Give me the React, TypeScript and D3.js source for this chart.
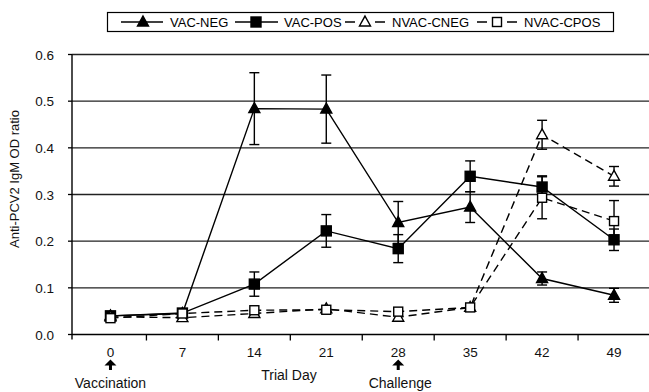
import * as d3 from "d3";

const days = ["0", "7", "14", "21", "28", "35", "42", "49"];
const yTicks = [0, 0.1, 0.2, 0.3, 0.4, 0.5, 0.6];

const vacNeg = [0.04, 0.045, 0.484, 0.483, 0.24, 0.273, 0.12, 0.084];
const vacNegErr = [0.003, 0.004, 0.077, 0.073, 0.045, 0.033, 0.014, 0.015];
const vacPos = [0.04, 0.046, 0.108, 0.222, 0.184, 0.339, 0.316, 0.203];
const vacPosErr = [0.003, 0.004, 0.026, 0.035, 0.03, 0.033, 0.024, 0.023];
const nvacCneg = [0.038, 0.036, 0.045, 0.055, 0.037, 0.058, 0.428, 0.339];
const nvacCnegErr = [0.003, 0.003, 0.004, 0.005, 0.004, 0.005, 0.031, 0.021];
const nvacCpos = [0.035, 0.045, 0.052, 0.053, 0.049, 0.058, 0.293, 0.243];
const nvacCposErr = [0.003, 0.003, 0.004, 0.004, 0.004, 0.004, 0.045, 0.044];

const series = [
  { name: "VAC-NEG", values: vacNeg, err: vacNegErr, shape: "tri", filled: true, dashed: false },
  { name: "VAC-POS", values: vacPos, err: vacPosErr, shape: "sq", filled: true, dashed: false },
  { name: "NVAC-CNEG", values: nvacCneg, err: nvacCnegErr, shape: "tri", filled: false, dashed: true },
  { name: "NVAC-CPOS", values: nvacCpos, err: nvacCposErr, shape: "sq", filled: false, dashed: true },
];

const font = "'Liberation Sans', Arial, Helvetica, sans-serif";

const Marker = ({ x, y, shape, filled }: { x: number; y: number; shape: string; filled: boolean }) => {
  const fill = filled ? "#000" : "#fff";
  if (shape === "tri") {
    const s = 11;
    const h = s * 0.9;
    return (
      <path
        d={`M${x},${y - h * 0.6}L${x + s / 2},${y + h * 0.4}L${x - s / 2},${y + h * 0.4}Z`}
        fill={fill}
        stroke="#000"
        strokeWidth={1.4}
      />
    );
  }
  const s = filled ? 10 : 9;
  return <rect x={x - s / 2} y={y - s / 2} width={s} height={s} fill={fill} stroke="#000" strokeWidth={1.4} />;
};

export default function App() {
  const width = 649;
  const height = 392;
  const axisX = 72;
  const x = d3.scaleBand<string>().domain(days).range([74.5, 650]);
  const y = d3.scaleLinear().domain([0, 0.6]).range([334.5, 54.5]);
  const cx = (d: string) => (x(d) ?? 0) + x.bandwidth() / 2;

  const line = d3
    .line<number>()
    .x((_, i) => cx(days[i]))
    .y(v => y(v));

  const legendItems = [
    { lx0: 121, lx1: 163, mx: 143, tx: 170 },
    { lx0: 235, lx1: 278, mx: 256, tx: 284 },
    { lx0: 345, lx1: 388, mx: 365, tx: 392 },
    { lx0: 477, lx1: 520, mx: 497, tx: 524 },
  ];

  const arrow = (ax: number) =>
    `M${ax},359.5L${ax + 6},365.5L${ax + 1.5},365.5L${ax + 1.5},370L${ax - 1.5},370L${ax - 1.5},365.5L${ax - 6},365.5Z`;

  return (
    <svg
      width={width}
      height={height}
      style={{ position: "absolute", left: 0, top: 0, background: "#fff" }}
      fontFamily={font}
    >
      <rect width={width} height={height} fill="#fff" />
      {/* legend */}
      <rect x={107.5} y={12.5} width={506} height={19} fill="#fff" stroke="#000" strokeWidth={1.2} />
      {series.map((s, i) => {
        const it = legendItems[i];
        return (
          <g key={s.name}>
            <line
              x1={it.lx0}
              x2={it.lx1}
              y1={22}
              y2={22}
              stroke="#000"
              strokeWidth={1.5}
              strokeDasharray={s.dashed ? "10,20" : undefined}
            />
            <Marker x={it.mx} y={22} shape={s.shape} filled={s.filled} />
            <text x={it.tx} y={26.5} fontSize={13}>
              {s.name}
            </text>
          </g>
        );
      })}

      {/* gridlines */}
      {yTicks.map(t => (
        <g key={t}>
          {t > 0 && <line x1={axisX} x2={649} y1={y(t)} y2={y(t)} stroke="#222" strokeWidth={1.3} />}
          <line x1={axisX - 4} x2={axisX} y1={y(t)} y2={y(t)} stroke="#000" strokeWidth={1.3} />
          <text x={54} y={y(t) + 5} fontSize={13.5} textAnchor="end" fill="#111">
            {t.toFixed(1)}
          </text>
        </g>
      ))}
      {/* axes */}
      <line x1={axisX} x2={axisX} y1={y(0.6)} y2={y(0) + 5} stroke="#000" strokeWidth={1.4} />
      <line x1={axisX} x2={649} y1={y(0)} y2={y(0)} stroke="#000" strokeWidth={1.4} />
      {days.slice(1).map(d => (
        <line key={d} x1={x(d)} x2={x(d)} y1={y(0)} y2={y(0) + 6} stroke="#000" strokeWidth={1.3} />
      ))}
      {days.map(d => (
        <text key={d} x={cx(d)} y={357} fontSize={13.5} textAnchor="middle" fill="#111">
          {d}
        </text>
      ))}

      {/* arrows and annotations */}
      <path d={arrow(cx("0"))} fill="#000" />
      <path d={arrow(cx("28"))} fill="#000" />
      <text x={cx("0")} y={388} fontSize={14} textAnchor="middle" fill="#111">
        Vaccination
      </text>
      <text x={cx("28") + 2} y={388} fontSize={14} textAnchor="middle" fill="#111">
        Challenge
      </text>
      <text x={289} y={380} fontSize={14} textAnchor="middle" fill="#111">
        Trial Day
      </text>
      <text transform={`translate(19,179) rotate(-90)`} fontSize={13} textAnchor="middle" fill="#111">
        Anti-PCV2 IgM OD ratio
      </text>

      {/* series lines */}
      {series.map(s => (
        <path
          key={s.name}
          d={line(s.values) ?? ""}
          fill="none"
          stroke="#000"
          strokeWidth={1.4}
          strokeDasharray={s.dashed ? "8,5" : undefined}
        />
      ))}
      {/* error bars */}
      {series.map(s =>
        s.values.map((v, i) => {
          const px = cx(days[i]);
          const e = s.err[i];
          if (e < 0.01) return null;
          return (
            <g key={s.name + i} stroke="#000" strokeWidth={1.4}>
              <line x1={px} x2={px} y1={y(v + e)} y2={y(v - e)} />
              <line x1={px - 5} x2={px + 5} y1={y(v + e)} y2={y(v + e)} />
              <line x1={px - 5} x2={px + 5} y1={y(v - e)} y2={y(v - e)} />
            </g>
          );
        })
      )}
      {/* markers */}
      {series.map(s =>
        s.values.map((v, i) => (
          <Marker key={s.name + "m" + i} x={cx(days[i])} y={y(v)} shape={s.shape} filled={s.filled} />
        ))
      )}
    </svg>
  );
}
